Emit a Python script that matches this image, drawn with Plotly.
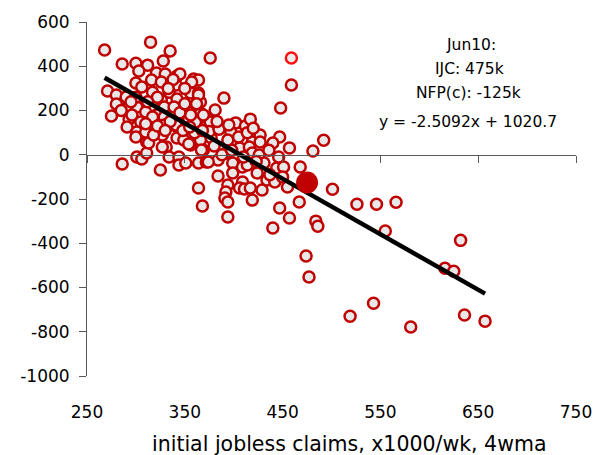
import plotly.graph_objects as go

# Historical observations: initial jobless claims (x1000/wk, 4wma) vs NFP change (k)
ijc = [268,315,335,286,300,312,328,303,321,330,342,345,359,300,316,326,336,341,306,317,
       334,356,364,271,280,290,326,342,280,290,301,310,321,329,339,354,366,293,305,317,
       329,341,354,361,371,291,364,357,366,364,371,376,369,356,376,459,448,390,381,402,
       412,417,301,316,311,327,329,341,342,331,334,344,356,369,344,351,364,372,301,306,
       286,325,364,368,311,300,310,313,318,327,349,354,377,366,367,397,394,419,427,427,
       447,440,457,481,492,406,416,419,426,384,374,392,399,409,414,431,444,468,399,424,
       384,394,392,409,406,411,417,429,434,442,455,467,447,457,419,391,394,394,440,451,
       501,526,546,566,484,486,555,632,616,625,474,477,519,543,581,636,657,
       338,350,333,322,312,300,296,310,322,335,348,360,375,385,380,388,398,405,414,420,
       436,446,362,368,355,330,285,275,295,345,350,383,395,410,423,437,450]
nfp = [473,509,469,410,414,405,424,379,370,365,356,365,342,324,338,329,324,315,306,283,
       283,279,279,288,270,261,247,252,229,207,216,193,180,216,216,193,189,161,148,171,
       171,130,161,148,125,125,338,329,238,270,171,148,180,180,437,315,211,256,202,144,
       130,161,103,103,58,89,134,134,76,35,-10,-10,44,21,-46,-37,-37,-33,-10,-19,
       -42,-69,-150,-232,8,80,103,53,89,35,67,49,76,67,21,103,67,58,89,58,
       80,53,31,17,66,31,35,8,-1,-24,-33,8,-37,-55,-46,-37,-60,-55,-82,-82,
       -96,-137,-168,-123,-150,-155,-150,-159,-114,-123,-146,-214,-241,-286,-205,-196,-214,-281,-331,-55,
       -156,-224,-224,-215,-300,-323,-345,-387,-513,-527,-458,-553,-730,-671,-779,-724,-752,
       340,300,300,260,240,260,180,140,130,150,110,100,105,115,40,0,20,80,100,120,
       20,-10,230,110,125,110,200,175,240,190,230,150,135,-10,-30,-90,-100]

# Highlighted earlier point (brighter marker)
hi_x = [459]
hi_y = [437]

# Latest observation
cur_label = "Jun10"
cur_x = [475]
cur_y = [-125]

# Regression
slope = -2.5092
intercept = 1020.7

x_ticks = [250, 350, 450, 550, 650, 750]
y_ticks = [-1000, -800, -600, -400, -200, 0, 200, 400, 600]
y_ticktext = [str(v) for v in y_ticks]  # plain hyphen minus

font = "DejaVu Sans, sans-serif"
axis_col = "#595959"
red = "#C00000"

allx = ijc + hi_x
xmin, xmax = min(allx), max(allx)
line_x = [xmin, xmax]
line_y = [slope * v + intercept for v in line_x]

fig = go.Figure()
fig.add_trace(go.Scatter(x=ijc, y=nfp, mode="markers",
                         marker=dict(size=11, color="#E8E8E8",
                                     line=dict(color=red, width=2.5)),
                         hoverinfo="skip", showlegend=False))
fig.add_trace(go.Scatter(x=hi_x, y=hi_y, mode="markers",
                         marker=dict(size=11, color="#EDEDED",
                                     line=dict(color="#FF1010", width=2.5)),
                         showlegend=False))
fig.add_trace(go.Scatter(x=line_x, y=line_y, mode="lines",
                         line=dict(color="black", width=4.5), showlegend=False))
fig.add_trace(go.Scatter(x=cur_x, y=cur_y, mode="markers",
                         marker=dict(size=22, color=red, line=dict(width=0)),
                         showlegend=False))
# invisible trace to carry the zero-crossing x axis
fig.add_trace(go.Scatter(x=[x_ticks[0]], y=[0], xaxis="x2", mode="markers",
                         marker=dict(opacity=0), hoverinfo="skip", showlegend=False))

ann_lines = [f"{cur_label}:", f"IJC: {cur_x[0]}k", f"NFP(c): {cur_y[0]}k",
             f"y = {slope}x + {intercept}"]
ann_py = [45, 69, 93, 122]
ann_px = [477, 475, 474, 473]

annotations = [
    dict(xref="paper", yref="paper", x=(px - 87) / 496, y=(376 - py) / 354,
         text=t, showarrow=False, font=dict(size=15.5),
         xanchor="center", yanchor="middle")
    for t, px, py in zip(ann_lines, ann_px, ann_py)
]
annotations.append(
    dict(xref="paper", yref="paper", x=(353 - 87) / 496, y=(376 - 444) / 354,
         text="initial jobless claims, x1000/wk, 4wma", showarrow=False,
         font=dict(size=20.5), xanchor="center", yanchor="middle"))

fig.update_layout(
    width=604, height=455,
    margin=dict(l=87, r=21, t=22, b=79),
    paper_bgcolor="white", plot_bgcolor="white",
    font=dict(family=font, size=17, color="black"),
    xaxis=dict(range=[250, 750], tickvals=x_ticks, showline=False, showgrid=False,
               zeroline=False, ticks="outside", ticklen=21,
               tickcolor="rgba(0,0,0,0)", tickfont=dict(size=17)),
    xaxis2=dict(range=[250, 750], overlaying="x", anchor="free", position=0.625,
                side="bottom", tickvals=x_ticks, showticklabels=False,
                showline=True, linecolor=axis_col, linewidth=1,
                ticks="outside", ticklen=7, tickcolor=axis_col, tickwidth=1,
                showgrid=False, zeroline=False),
    yaxis=dict(range=[-1000, 600], tickvals=y_ticks, ticktext=y_ticktext,
               showline=True, linecolor=axis_col, linewidth=1, ticks="outside",
               ticklen=7, tickcolor=axis_col, showgrid=False, zeroline=False,
               ticklabelstandoff=6, tickfont=dict(size=17)),
    annotations=annotations,
)

fig.write_html("out.html", post_script="document.body.style.margin='0';",
               config={"displayModeBar": False})
